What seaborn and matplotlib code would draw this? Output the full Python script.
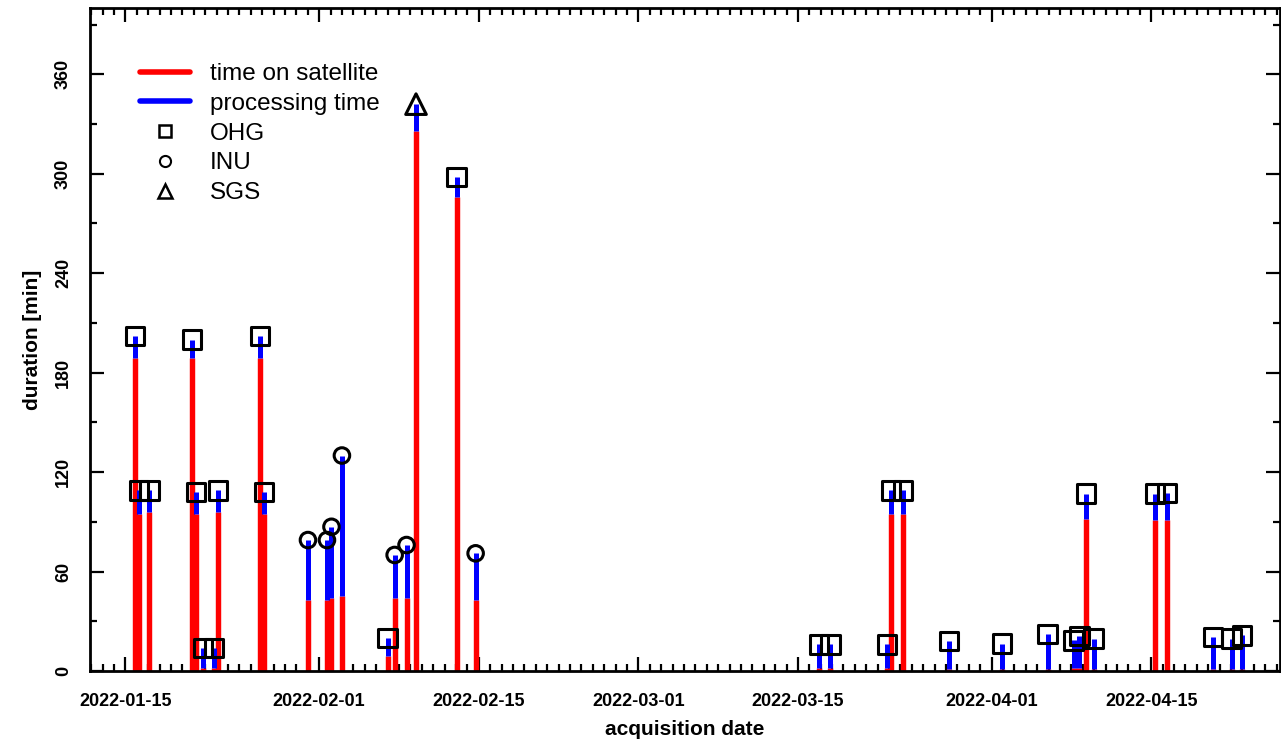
import matplotlib
matplotlib.use("Agg")
import pandas as pd
import seaborn as sns
import matplotlib.pyplot as plt
import matplotlib.dates as mdates
from matplotlib.ticker import MultipleLocator
from matplotlib.lines import Line2D

# acquisition data
acq_time = [
    "2022-01-15 20:24", "2022-01-16 05:00", "2022-01-17 02:30", "2022-01-20 19:50",
    "2022-01-21 05:00", "2022-01-21 19:50", "2022-01-22 18:30", "2022-01-23 02:30",
    "2022-01-26 19:30", "2022-01-27 04:30", "2022-01-31 00:30", "2022-02-01 16:30",
    "2022-02-02 02:00", "2022-02-03 00:00", "2022-02-07 00:00", "2022-02-07 15:00",
    "2022-02-08 16:00", "2022-02-09 12:00", "2022-02-13 01:30", "2022-02-14 17:30",
    "2022-03-16 21:00", "2022-03-17 20:30", "2022-03-22 20:00", "2022-03-23 04:30",
    "2022-03-24 05:00", "2022-03-28 06:00", "2022-04-01 22:00", "2022-04-05 21:30",
    "2022-04-08 04:30", "2022-04-08 16:30", "2022-04-09 06:00", "2022-04-09 22:30",
    "2022-04-15 08:00", "2022-04-16 08:30", "2022-04-20 09:30", "2022-04-22 01:00",
    "2022-04-22 23:30",
]
station = [
    "OHG", "OHG", "OHG", "OHG", "OHG", "OHG", "OHG", "OHG", "OHG", "OHG",
    "INU", "INU", "INU", "INU", "OHG", "INU", "INU", "SGS", "OHG", "INU",
    "OHG", "OHG", "OHG", "OHG", "OHG", "OHG", "OHG", "OHG", "OHG", "OHG",
    "OHG", "OHG", "OHG", "OHG", "OHG", "OHG", "OHG",
]
sat_time = [
    189, 95, 96, 189, 95, 2, 2, 96, 189, 95,
    43, 43, 44, 45, 9, 44, 44, 326, 286, 43,
    2, 2, 2, 95, 95, 1, 1, 1, 2, 2,
    92, 1, 91, 91, 1, 1, 1,
]
proc_time = [
    13, 14, 13, 11, 13, 12, 12, 13, 13, 13,
    36, 36, 43, 85, 11, 26, 32, 16, 12, 28,
    14, 14, 14, 14, 14, 17, 15.5, 21.5, 16.5, 19,
    15, 18.5, 16, 16.5, 19.5, 18.5, 20.5,
]

df = pd.DataFrame({"acq": pd.to_datetime(acq_time), "station": station,
                   "sat": sat_time, "proc": proc_time})
df["total"] = df["sat"] + df["proc"]

sns.set_style("ticks")
plt.rcParams['font.family'] = ['Liberation Sans', 'DejaVu Sans']
plt.rcParams.update({"text.color": "black", "axes.labelcolor": "black",
                     "xtick.color": "black", "ytick.color": "black"})

fig, ax = plt.subplots(figsize=(12.81, 7.41), dpi=100)
fig.subplots_adjust(left=90 / 1281, right=1280 / 1281, bottom=70 / 741, top=733 / 741)

# stacked sticks: time on satellite (red) then processing time (blue)
ax.vlines(df["acq"], 0, df["sat"], color="red", linewidth=3.9, zorder=2)
ax.vlines(df["acq"], df["sat"], df["total"], color="blue", linewidth=3.6, zorder=2)

# station markers at the total duration
marker_style = {"OHG": ("s", 175), "INU": ("o", 125), "SGS": ("^", 220)}
for st, (mk, size) in marker_style.items():
    sub = df[df["station"] == st]
    sns.scatterplot(data=sub, x="acq", y="total", marker=mk, s=size,
                    facecolor="none", edgecolor="black", linewidth=2.2,
                    ax=ax, zorder=3, legend=False)

ax.set_xlim(pd.Timestamp("2022-01-11 21:36"), pd.Timestamp("2022-04-26 07:00"))
ax.set_ylim(0, 400)
ax.xaxis.set_major_locator(mdates.DayLocator(bymonthday=[1, 15]))
ax.xaxis.set_minor_locator(mdates.DayLocator())
ax.xaxis.set_major_formatter(mdates.DateFormatter("%Y-%m-%d"))
ax.yaxis.set_major_locator(MultipleLocator(60))
ax.yaxis.set_minor_locator(MultipleLocator(30))

ax.tick_params(which="both", direction="in", top=True, right=True, width=1.6)
ax.tick_params(which="major", length=10)
ax.tick_params(which="minor", length=5)
ax.tick_params(axis="x", pad=16, labelsize=13)
ax.tick_params(axis="y", pad=13, labelsize=13, labelrotation=90)
for lab in ax.get_xticklabels() + ax.get_yticklabels():
    lab.set_fontweight("bold")
for lab in ax.get_yticklabels():
    lab.set_verticalalignment("center")
for sp in ax.spines.values():
    sp.set_linewidth(2)
    sp.set_color("black")

ax.set_xlabel("acquisition date", fontsize=15, fontweight="bold", labelpad=7)
ax.set_ylabel("duration [min]", fontsize=15, fontweight="bold", labelpad=9)

handles = [
    Line2D([], [], color="red", linewidth=4),
    Line2D([], [], color="blue", linewidth=4),
    Line2D([], [], linestyle="none", marker="s", markersize=9, markerfacecolor="none",
           markeredgecolor="black", markeredgewidth=1.8),
    Line2D([], [], linestyle="none", marker="o", markersize=8, markerfacecolor="none",
           markeredgecolor="black", markeredgewidth=1.5),
    Line2D([], [], linestyle="none", marker="^", markersize=10, markerfacecolor="none",
           markeredgecolor="black", markeredgewidth=1.8),
]
labels = ["time on satellite", "processing time", "OHG", "INU", "SGS"]
ax.legend(handles, labels, loc="upper left", bbox_to_anchor=(0.042, 0.917),
          frameon=False, fontsize=17.5, handlelength=2.06, handletextpad=0.82,
          labelspacing=0.32, borderpad=0, borderaxespad=0)

plt.savefig("out.png", dpi=100)
